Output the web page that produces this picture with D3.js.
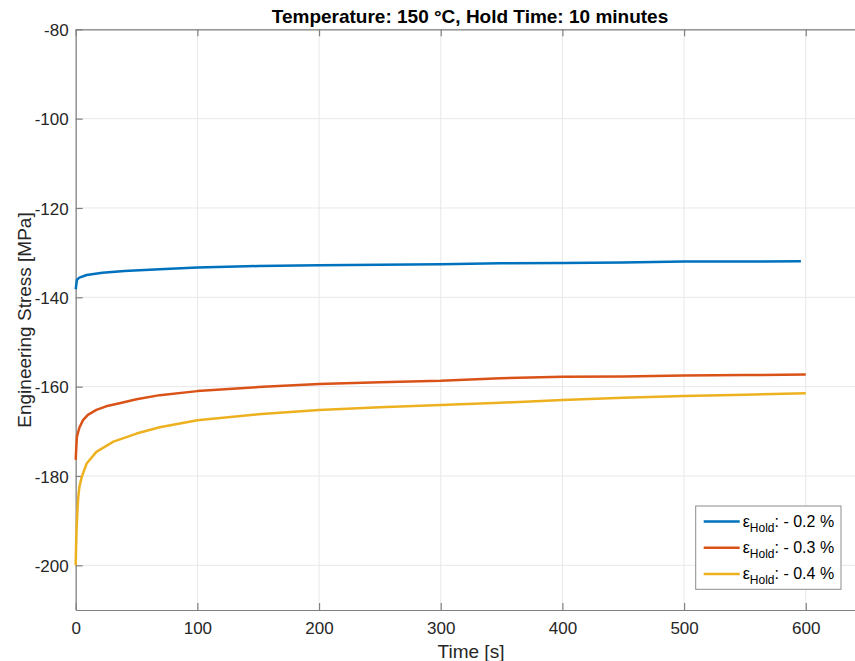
<!DOCTYPE html>
<html>
<head>
<meta charset="utf-8">
<script src="https://cdn.jsdelivr.net/npm/d3@7"></script>
<style>
    body { margin: 0; background: #fff; }
    svg { display: block; font-family: "Liberation Sans", Arial, sans-serif; }
</style>
</head>
<body>
<div id="chart"></div>
<script>
// Data (time in s, stress in MPa)
const seriesNames = ["- 0.2 %", "- 0.3 %", "- 0.4 %"];
const seriesColors = ["#0072BD", "#D95319", "#EDB120"];

const timeBlue   = [0, 1, 3, 9, 22, 40, 69, 100, 150, 200, 250, 300, 349, 400, 450, 500, 550, 596];
const stressBlue = [-138.2, -136.1, -135.6, -135.0, -134.5, -134.1, -133.7, -133.3, -133.0, -132.8, -132.7, -132.6, -132.4, -132.3, -132.2, -132.0, -132.0, -131.9];

const timeOrange   = [0, 0.5, 1, 3, 6, 10, 17, 25, 36, 50, 69, 100, 150, 200, 250, 300, 349, 400, 450, 500, 550, 600];
const stressOrange = [-176.4, -173.5, -171.2, -169.2, -167.5, -166.3, -165.2, -164.4, -163.7, -162.8, -161.9, -161.0, -160.1, -159.4, -159.0, -158.7, -158.1, -157.8, -157.7, -157.5, -157.4, -157.3];

const timeYellow   = [0, 0.3, 0.7, 1.2, 2, 3, 5, 9, 17, 31, 50, 69, 100, 150, 200, 250, 300, 349, 400, 450, 500, 550, 600];
const stressYellow = [-200, -196, -192, -189, -185, -182.5, -180.2, -177.2, -174.6, -172.3, -170.5, -169.1, -167.5, -166.2, -165.2, -164.6, -164.1, -163.6, -163.0, -162.5, -162.1, -161.8, -161.5];

const xTicks = [0, 100, 200, 300, 400, 500, 600];
const yTicks = [-200, -180, -160, -140, -120, -100, -80];

const series = [
    { t: timeBlue, s: stressBlue },
    { t: timeOrange, s: stressOrange },
    { t: timeYellow, s: stressYellow }
];

const width = 855, height = 661;
const plot = { left: 75.7, right: 866.6, top: 29.3, bottom: 610 };
const axisColor = "#808080";
const textColor = "#262626";

const svg = d3.select("#chart").append("svg")
    .attr("width", width)
    .attr("height", height);

const x = d3.scaleLinear().domain([0, 650]).range([plot.left, plot.right]);
const y = d3.scaleLinear().domain([-210, -80]).range([plot.bottom, plot.top]);

// Grid lines
svg.append("g")
    .selectAll("line")
    .data(xTicks)
    .join("line")
    .attr("x1", d => x(d)).attr("x2", d => x(d))
    .attr("y1", plot.top).attr("y2", plot.bottom)
    .attr("stroke", "#e8e8e8").attr("stroke-width", 1);

svg.append("g")
    .selectAll("line")
    .data(yTicks)
    .join("line")
    .attr("x1", plot.left).attr("x2", plot.right)
    .attr("y1", d => y(d)).attr("y2", d => y(d))
    .attr("stroke", "#e8e8e8").attr("stroke-width", 1);

// Axes (MATLAB style, ticks pointing inward, plain hyphen minus)
const fmt = d => String(d);
const xAxis = svg.append("g")
    .attr("transform", `translate(0,${plot.bottom})`)
    .call(d3.axisBottom(x).tickValues(xTicks).tickFormat(fmt).tickSizeInner(-7).tickSizeOuter(0).tickPadding(12));
const xTop = svg.append("g")
    .attr("transform", `translate(0,${plot.top})`)
    .call(d3.axisTop(x).tickValues(xTicks).tickSizeInner(-7).tickSizeOuter(0).tickFormat(""));
const yAxis = svg.append("g")
    .attr("transform", `translate(${plot.left},0)`)
    .call(d3.axisLeft(y).tickValues(yTicks).tickFormat(fmt).tickSizeInner(-7).tickSizeOuter(0).tickPadding(7));

[xAxis, xTop, yAxis].forEach(g => {
    g.select(".domain").attr("stroke", axisColor).attr("stroke-width", 1.2);
    g.selectAll(".tick line").attr("stroke", axisColor).attr("stroke-width", 1.2);
    g.selectAll(".tick text")
        .attr("fill", textColor)
        .style("font-size", "17px")
        .style("font-family", "'Liberation Sans', Arial, sans-serif");
});
yAxis.selectAll(".tick text").attr("dy", "0.36em");

// Lines
const line = d3.line()
    .x(d => x(d[0]))
    .y(d => y(d[1]));

series.forEach((sr, i) => {
    const pts = sr.t.map((t, j) => [t, sr.s[j]]);
    svg.append("path")
        .datum(pts)
        .attr("fill", "none")
        .attr("stroke", seriesColors[i])
        .attr("stroke-width", 2.5)
        .attr("stroke-linejoin", "round")
        .attr("d", line);
});

// Title and axis labels
svg.append("text")
    .attr("x", 470)
    .attr("y", 23)
    .attr("text-anchor", "middle")
    .style("font-size", "19px")
    .style("font-weight", "bold")
    .attr("fill", "#000")
    .text("Temperature: 150 °C, Hold Time: 10 minutes");

svg.append("text")
    .attr("x", 471)
    .attr("y", 658)
    .attr("text-anchor", "middle")
    .style("font-size", "19px")
    .attr("fill", textColor)
    .text("Time [s]");

svg.append("text")
    .attr("transform", `translate(31,320) rotate(-90)`)
    .attr("text-anchor", "middle")
    .style("font-size", "19px")
    .attr("fill", textColor)
    .text("Engineering Stress [MPa]");

// Legend
const legend = svg.append("g").attr("transform", "translate(695.7,506)");
legend.append("rect")
    .attr("width", 145.3).attr("height", 83.3)
    .attr("fill", "#fff")
    .attr("stroke", "#8c8c8c").attr("stroke-width", 1);

seriesNames.forEach((name, i) => {
    const ly = 15.5 + i * 26.3;
    legend.append("line")
        .attr("x1", 8).attr("x2", 44)
        .attr("y1", ly).attr("y2", ly)
        .attr("stroke", seriesColors[i]).attr("stroke-width", 2.5);
    const t = legend.append("text")
        .attr("x", 47).attr("y", ly + 5)
        .style("font-size", "16px")
        .attr("fill", "#000");
    t.append("tspan").text("ε");
    t.append("tspan").attr("dy", 5).style("font-size", "12px").text("Hold");
    t.append("tspan").attr("dy", -5).text(": " + name);
});
</script>
</body>
</html>
